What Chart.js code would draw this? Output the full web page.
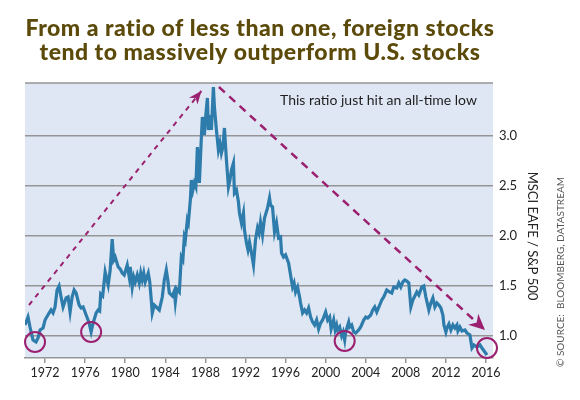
<!DOCTYPE html>
<html>
<head>
<meta charset="utf-8">
<script src="https://cdn.jsdelivr.net/npm/chart.js@4.4.0/dist/chart.umd.min.js"></script>
<style>
  html, body { margin: 0; padding: 0; background: #fff; }
</style>
</head>
<body>
<canvas id="chart" width="580" height="400"></canvas>
<script>
// datos
const years = [
  1970.0, 1970.3, 1970.5, 1970.8, 1971.1, 1971.3, 1971.5, 1971.8, 1972.0, 1972.4,
  1972.6, 1972.8, 1973.0, 1973.2, 1973.4, 1973.6, 1973.8, 1974.1, 1974.3, 1974.5,
  1974.7, 1974.9, 1975.1, 1975.4, 1975.6, 1975.8, 1976.1, 1976.4, 1976.6, 1976.8,
  1977.1, 1977.3, 1977.45, 1977.55, 1977.75, 1978.0, 1978.3, 1978.5, 1978.7, 1978.85,
  1979.0, 1979.3, 1979.5, 1979.7, 1979.9, 1980.2, 1980.4, 1980.5, 1980.7, 1980.85,
  1981.0, 1981.2, 1981.4, 1981.55, 1981.7, 1981.85, 1982.0, 1982.3, 1982.45, 1982.6,
  1982.7, 1982.9, 1983.2, 1983.4, 1983.7, 1983.9, 1984.1, 1984.25, 1984.4, 1984.7,
  1984.9, 1985.0, 1985.15, 1985.4, 1985.6, 1985.75, 1985.9, 1986.0, 1986.2, 1986.3,
  1986.5, 1986.6, 1986.75, 1986.9, 1987.05, 1987.2, 1987.3, 1987.4, 1987.6, 1987.7,
  1987.9, 1988.0, 1988.2, 1988.3, 1988.5, 1988.6, 1988.8, 1988.9, 1989.1, 1989.3,
  1989.45, 1989.6, 1989.75, 1989.9, 1990.1, 1990.3, 1990.45, 1990.6, 1990.8, 1990.9,
  1991.1, 1991.3, 1991.4, 1991.6, 1991.8, 1991.9, 1992.1, 1992.25, 1992.4, 1992.6,
  1992.8, 1993.0, 1993.2, 1993.35, 1993.5, 1993.7, 1993.9, 1994.2, 1994.4, 1994.5,
  1994.7, 1994.9, 1995.1, 1995.3, 1995.5, 1995.6, 1995.8, 1996.0, 1996.3, 1996.5,
  1996.7, 1996.85, 1997.0, 1997.2, 1997.4, 1997.5, 1997.7, 1997.9, 1998.1, 1998.3,
  1998.5, 1998.7, 1998.9, 1999.1, 1999.3, 1999.5, 1999.7, 2000.0, 2000.2, 2000.4,
  2000.55, 2000.8, 2000.95, 2001.1, 2001.2, 2001.4, 2001.6, 2001.75, 2001.9, 2002.0,
  2002.3, 2002.4, 2002.6, 2002.8, 2003.0, 2003.3, 2003.5, 2003.8, 2004.0, 2004.2,
  2004.5, 2004.7, 2004.9, 2005.1, 2005.4, 2005.6, 2005.8, 2006.1, 2006.4, 2006.6,
  2006.8, 2007.1, 2007.3, 2007.5, 2007.7, 2007.9, 2008.1, 2008.3, 2008.5, 2008.7,
  2009.1, 2009.3, 2009.6, 2009.8, 2010.0, 2010.3, 2010.5, 2010.7, 2010.9, 2011.1,
  2011.3, 2011.5, 2011.7, 2011.8, 2012.0, 2012.1, 2012.3, 2012.5, 2012.7, 2012.9,
  2013.1, 2013.2, 2013.4, 2013.6, 2013.9, 2014.1, 2014.4, 2014.6, 2014.8, 2015.1,
  2015.4, 2015.6, 2016.1
];
const ratio = [
  1.11, 1.19, 1.09, 0.96, 0.94, 0.98, 1.06, 1.08, 1.16, 1.23,
  1.26, 1.23, 1.29, 1.46, 1.50, 1.39, 1.29, 1.38, 1.39, 1.24,
  1.39, 1.46, 1.43, 1.31, 1.28, 1.29, 1.21, 1.13, 1.04, 1.13,
  1.23, 1.26, 1.25, 1.42, 1.40, 1.64, 1.51, 1.66, 1.97, 1.76,
  1.79, 1.69, 1.67, 1.63, 1.61, 1.71, 1.59, 1.69, 1.49, 1.59,
  1.54, 1.61, 1.53, 1.63, 1.56, 1.63, 1.54, 1.63, 1.54, 1.36,
  1.23, 1.31, 1.28, 1.26, 1.39, 1.56, 1.66, 1.56, 1.43, 1.40,
  1.45, 1.34, 1.47, 1.44, 1.79, 1.76, 1.99, 1.96, 2.16, 2.13,
  2.36, 2.56, 2.46, 2.53, 2.49, 2.89, 2.76, 2.53, 2.99, 3.19,
  3.01, 3.16, 3.38, 3.06, 3.21, 3.06, 3.49, 3.29, 3.06, 2.86,
  2.93, 2.83, 2.89, 3.08, 2.76, 2.49, 2.56, 2.66, 2.73, 2.43,
  2.46, 2.34, 2.23, 2.13, 2.23, 2.06, 1.93, 1.86, 1.94, 1.83,
  1.71, 1.96, 2.08, 2.03, 2.14, 2.01, 2.18, 2.28, 2.38, 2.31,
  2.29, 2.04, 2.13, 1.98, 1.99, 1.83, 1.79, 1.81, 1.73, 1.61,
  1.49, 1.53, 1.44, 1.49, 1.39, 1.33, 1.23, 1.26, 1.23, 1.28,
  1.19, 1.14, 1.11, 1.16, 1.07, 1.13, 1.16, 1.24, 1.16, 1.19,
  1.07, 1.16, 1.06, 1.11, 1.06, 1.09, 1.00, 1.04, 0.96, 1.04,
  1.14, 1.09, 1.11, 1.04, 1.03, 1.06, 1.09, 1.16, 1.19, 1.18,
  1.21, 1.26, 1.29, 1.24, 1.31, 1.36, 1.39, 1.46, 1.44, 1.43,
  1.49, 1.48, 1.53, 1.49, 1.54, 1.56, 1.55, 1.53, 1.29, 1.36,
  1.44, 1.41, 1.49, 1.50, 1.39, 1.26, 1.33, 1.38, 1.29, 1.33,
  1.31, 1.28, 1.21, 1.11, 1.04, 1.08, 1.12, 1.06, 1.11, 1.08,
  1.11, 1.05, 1.09, 1.05, 1.06, 1.03, 1.01, 0.88, 0.91, 0.89,
  0.91, 0.88, 0.81
];
const yearTicks = [1972, 1976, 1980, 1984, 1988, 1992, 1996, 2000, 2004, 2008, 2012, 2016];
const ratioTicks = [1.0, 1.5, 2.0, 2.5, 3.0];

// minimos marcados con circulos
const lowYears = [1971.0, 1976.6, 2001.9, 2016.1];
const lowValues = [0.94, 1.04, 0.95, 0.88];

// flechas punteadas
const upArrowYears = [1970.4, 1987.6];
const upArrowValues = [1.31, 3.45];
const downArrowYears = [1989.35, 2015.9];
const downArrowValues = [3.49, 1.06];

const titleLines = [
  "From a ratio of less than one, foreign stocks",
  "tend to massively outperform U.S. stocks"
];
const note = "This ratio just hit an all-time low";
const axisTitle = "MSCI EAFE / S&P 500";
const source = "\u00A9 SOURCE:  BLOOMBERG, DATASTREAM";

const azul = "#2e7cab";
const morado = "#9b2170";
const gris = "#959595";

function pares(xs, ys) {
  return xs.map((x, i) => ({ x: x, y: ys[i] }));
}

function punta(ctx, meta, largo, ancho) {
  const pts = meta.data;
  const a = pts[pts.length - 2], b = pts[pts.length - 1];
  const ang = Math.atan2(b.y - a.y, b.x - a.x);
  ctx.save();
  ctx.translate(b.x, b.y);
  ctx.rotate(ang);
  ctx.fillStyle = morado;
  ctx.beginPath();
  ctx.moveTo(0, 0);
  ctx.lineTo(-largo, -ancho / 2);
  ctx.lineTo(-largo * 0.7, 0);
  ctx.lineTo(-largo, ancho / 2);
  ctx.closePath();
  ctx.fill();
  ctx.restore();
}

const decoracion = {
  id: "decoracion",
  beforeDraw(chart) {
    const { ctx, chartArea: a } = chart;
    ctx.save();
    ctx.fillStyle = "#dfe7f4";
    ctx.fillRect(a.left, a.top, a.right - a.left, a.bottom - a.top);
    ctx.strokeStyle = gris;
    ctx.lineWidth = 1.5;
    ctx.beginPath();
    ctx.moveTo(a.left, a.top);
    ctx.lineTo(a.right, a.top);
    ctx.stroke();

    ctx.fillStyle = "#5c4a0a";
    ctx.font = "900 23px Lato";
    ctx.letterSpacing = "0.5px";
    ctx.textAlign = "center";
    ctx.textBaseline = "middle";
    ctx.fillText(titleLines[0], 260, 29);
    ctx.fillText(titleLines[1], 260, 53);
    ctx.restore();
  },
  afterDatasetsDraw(chart) {
    const ctx = chart.ctx;
    punta(ctx, chart.getDatasetMeta(1), 13, 11);
    punta(ctx, chart.getDatasetMeta(2), 16, 15);

    ctx.save();
    ctx.fillStyle = "#1e1e1e";
    ctx.font = "14px Lato";
    ctx.textAlign = "left";
    ctx.textBaseline = "middle";
    ctx.fillText(note, 280, 100);
    ctx.restore();
  },
  afterDraw(chart) {
    const ctx = chart.ctx;
    ctx.save();
    ctx.fillStyle = "#222";
    ctx.font = "13px Lato";
    ctx.textAlign = "center";
    ctx.textBaseline = "middle";
    ctx.translate(532, 236);
    ctx.rotate(Math.PI / 2);
    ctx.fillText(axisTitle, 0, 0);
    ctx.restore();

    ctx.save();
    ctx.fillStyle = "#555";
    ctx.font = "10px Lato";
    ctx.textAlign = "center";
    ctx.textBaseline = "middle";
    ctx.translate(561, 272);
    ctx.rotate(-Math.PI / 2);
    ctx.fillText(source, 0, 0);
    ctx.restore();
  }
};

const ctx = document.getElementById("chart").getContext("2d");

new Chart(ctx, {
  type: "line",
  data: {
    datasets: [
      {
        label: "lows",
        data: pares(lowYears, lowValues),
        showLine: false,
        pointStyle: "circle",
        pointRadius: 10,
        pointBorderWidth: 2,
        pointBorderColor: morado,
        pointBackgroundColor: "rgba(0,0,0,0)",
        clip: false
      },
      {
        label: "up",
        data: pares(upArrowYears, upArrowValues),
        borderColor: morado,
        borderWidth: 2,
        borderDash: [5, 5],
        pointRadius: 0,
        clip: false
      },
      {
        label: "down",
        data: pares(downArrowYears, downArrowValues),
        borderColor: morado,
        borderWidth: 2.5,
        borderDash: [8, 6],
        pointRadius: 0,
        clip: false
      },
      {
        label: "MSCI EAFE / S&P 500",
        data: pares(years, ratio),
        borderColor: azul,
        borderWidth: 3.2,
        pointRadius: 0,
        tension: 0
      }
    ]
  },
  options: {
    responsive: false,
    animation: false,
    layout: { padding: { top: 83, left: 25, right: 0, bottom: 0 } },
    plugins: {
      legend: { display: false },
      tooltip: { enabled: false },
      title: { display: false }
    },
    scales: {
      x: {
        type: "linear",
        min: 1970,
        max: 2016.7,
        afterBuildTicks: s => { s.ticks = yearTicks.map(v => ({ value: v })); },
        afterFit: s => { s.height = 42; },
        ticks: {
          callback: v => String(v),
          color: "#222",
          font: { family: "Lato", size: 12.5 },
          padding: 2,
          maxRotation: 0,
          autoSkip: false
        },
        grid: {
          drawOnChartArea: false,
          drawTicks: true,
          tickLength: 5,
          tickColor: gris,
          lineWidth: 1.5
        },
        border: { display: true, color: gris, width: 1.5 }
      },
      y: {
        type: "linear",
        position: "right",
        min: 0.78,
        max: 3.53,
        afterBuildTicks: s => { s.ticks = ratioTicks.map(v => ({ value: v })); },
        afterFit: s => { s.width = 87; },
        ticks: {
          callback: v => v.toFixed(1),
          color: "#222",
          font: { family: "Lato", size: 13 },
          padding: 6
        },
        grid: {
          color: gris,
          lineWidth: 1.5,
          drawTicks: false
        },
        border: { display: false }
      }
    }
  },
  plugins: [decoracion]
});
</script>
</body>
</html>
